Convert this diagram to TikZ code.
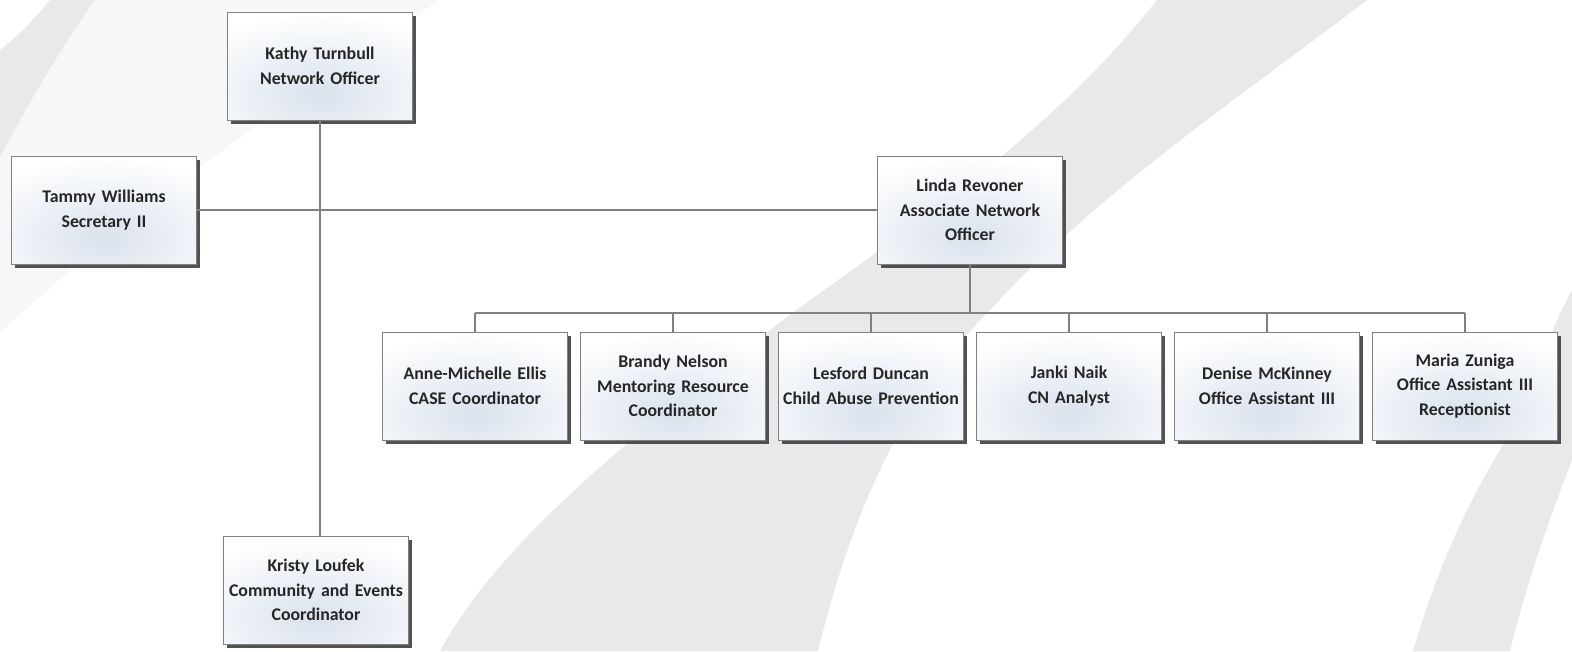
\documentclass[tikz,border=0pt]{standalone}
\usepackage{fontspec}
\setmainfont{Carlito}
\usetikzlibrary{positioning,shadows}

\definecolor{glow}{RGB}{218,226,237}
\definecolor{swoosh}{RGB}{233,233,233}
\definecolor{swooshlight}{RGB}{247,247,247}

\begin{document}
\begin{tikzpicture}[x=1pt, y=-1pt, node distance=12pt,
    staffbox/.style={draw=gray, line width=1pt, fill=white,
        minimum width=185pt, minimum height=108pt, text width=183pt,
        inner sep=1pt, align=center, text=black!85,
        font=\bfseries\fontsize{17.8}{24.5}\selectfont,
        drop shadow={shadow xshift=3.5pt, shadow yshift=-3.5pt, fill=black!75, opacity=0.9},
        path picture={\shade[inner color=glow, outer color=white]
            ([yshift=-30pt]path picture bounding box.center) ellipse [x radius=150pt, y radius=80pt];}},
    link/.style={draw=gray, line width=1.2pt}]
    \useasboundingbox (0,0) rectangle (1572,651);

    % background swooshes
    \fill[swooshlight] (95,0) -- (440,0) .. controls (300,90) and (120,220) .. (0,333) -- (0,157) .. controls (30,100) and (60,50) .. cycle;
    \fill[swoosh] (50,0) -- (95,0) .. controls (60,50) and (30,100) .. (0,157) -- (0,50) .. controls (20,35) and (35,18) .. cycle;
    \fill[swoosh] (1157,0) .. controls (1040,150) and (860,260) .. (770,330)
        .. controls (640,430) and (500,540) .. (440,651) -- (818,651)
        .. controls (850,520) and (900,400) .. (990,310)
        .. controls (1100,190) and (1250,90) .. (1367,0) -- cycle;
    \fill[swoosh] (1413,651) .. controls (1440,560) and (1470,500) .. (1500,450)
        .. controls (1530,390) and (1550,330) .. (1572,290) -- (1572,460)
        .. controls (1545,530) and (1525,590) .. (1510,651) -- cycle;

    % staff
    \node[staffbox] (kathy) at (320,66) {Kathy Turnbull\\Network Officer};
    \node[staffbox] (tammy) at (104,210) {Tammy Williams\\Secretary II};
    \node[staffbox] (linda) at (970,210) {Linda Revoner\\Associate Network\\Officer};
    \node[staffbox] (kristy) at (316,590) {Kristy Loufek\\Community and Events\\Coordinator};
    \node[staffbox] (anne) at (475,386) {Anne-Michelle Ellis\\CASE Coordinator};
    \node[staffbox, right=of anne] (brandy) {Brandy Nelson\\Mentoring Resource\\Coordinator};
    \node[staffbox, right=of brandy] (lesford) {Lesford Duncan\\Child Abuse Prevention};
    \node[staffbox, right=of lesford] (janki) {Janki Naik\\CN Analyst};
    \node[staffbox, right=of janki] (denise) {Denise McKinney\\Office Assistant III};
    \node[staffbox, right=of denise] (maria) {Maria Zuniga\\Office Assistant III\\Receptionist};

    % connectors
    \coordinate (bus) at (970,313);
    \draw[link] (kathy.south) -- (kathy.south |- kristy.north);
    \draw[link] (tammy.east) -- (linda.west);
    \draw[link] (linda.south) -- (bus);
    \draw[link] (anne.north |- bus) -- (maria.north |- bus);
    \foreach \kid in {anne,brandy,lesford,janki,denise,maria}
        \draw[link] (\kid.north) -- (\kid.north |- bus);
\end{tikzpicture}
\end{document}
